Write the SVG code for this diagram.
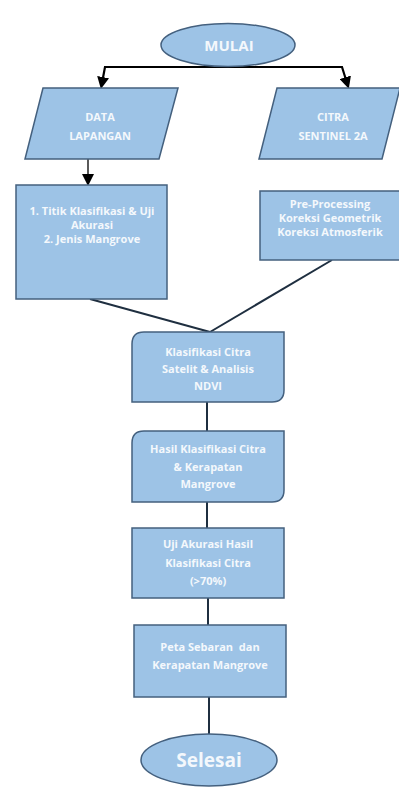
<svg xmlns="http://www.w3.org/2000/svg" width="399" height="787" viewBox="0 0 399 787">
<style>
.n{fill:#9dc3e6;stroke:#44607e;stroke-width:1.5}
.t{font-family:"Open Sans","Liberation Sans",sans-serif;font-weight:bold;font-size:11px;fill:#f4f8fc;text-anchor:middle}
.c{fill:none;stroke:#1f2f40;stroke-width:2}
.a{fill:none;stroke:#000;stroke-width:1.3}
</style>
<defs>
<marker id="ah" markerWidth="12" markerHeight="12" refX="6" refY="6" orient="auto" markerUnits="userSpaceOnUse" viewBox="0 0 12 12">
<path d="M0,0 L12,6 L0,12 Z" fill="#000"/>
</marker>
</defs>
<rect width="399" height="787" fill="#fff"/>
<g id="connectors">
<path d="M228,67 L105,67 L102,83" fill="none" stroke="#000" stroke-width="2.2" marker-end="url(#ah)"/>
<path d="M228,67 L342,67 L347,83" fill="none" stroke="#000" stroke-width="2.2" marker-end="url(#ah)"/>
<path d="M88,159 L88,180" class="a" marker-end="url(#ah)"/>
<path d="M90,299 L210,332" class="c"/>
<path d="M332,260 L210,332" class="c"/>
<path d="M207,402 L207,431" class="c"/>
<path d="M207,502 L207,528" class="c"/>
<path d="M208,598 L208,625" class="c"/>
<path d="M209,697 L209,734" class="c"/>
</g>
<g id="mulai">
<ellipse class="n" cx="228" cy="45" rx="67" ry="21.5"/>
<text class="t" x="229" y="51" style="font-size:15px">MULAI</text>
</g>
<g id="data-lapangan">
<polygon class="n" points="43,88 178,88 159,159 25,159"/>
<text class="t" x="100" y="121">DATA</text>
<text class="t" x="100" y="140">LAPANGAN</text>
</g>
<g id="citra-sentinel">
<polygon class="n" points="277,88 400,88 382,159 259,159"/>
<text class="t" x="333" y="121">CITRA</text>
<text class="t" x="333" y="140">SENTINEL 2A</text>
</g>
<g id="titik">
<rect class="n" x="16" y="185" width="151" height="114"/>
<text class="t" x="92" y="215">1. Titik Klasifikasi &amp; Uji</text>
<text class="t" x="92" y="229">Akurasi</text>
<text class="t" x="92" y="243">2. Jenis Mangrove</text>
</g>
<g id="preprocessing">
<rect class="n" x="260" y="191" width="140" height="69"/>
<text class="t" x="330" y="208">Pre-Processing</text>
<text class="t" x="330" y="222">Koreksi Geometrik</text>
<text class="t" x="330" y="236">Koreksi Atmosferik</text>
</g>
<g id="klasifikasi">
<path class="n" d="M144,332 L284,332 L284,390 Q284,402 272,402 L132,402 L132,344 Q132,332 144,332 Z"/>
<text class="t" x="208" y="356">Klasifikasi Citra</text>
<text class="t" x="208" y="373">Satelit &amp; Analisis</text>
<text class="t" x="208" y="390">NDVI</text>
</g>
<g id="hasil">
<path class="n" d="M144,431 L284,431 L284,490 Q284,502 272,502 L132,502 L132,443 Q132,431 144,431 Z"/>
<text class="t" x="208" y="453">Hasil Klasifikasi Citra</text>
<text class="t" x="208" y="471">&amp; Kerapatan</text>
<text class="t" x="208" y="488">Mangrove</text>
</g>
<g id="uji">
<rect class="n" x="132" y="528" width="152" height="70"/>
<text class="t" x="208" y="548">Uji Akurasi Hasil</text>
<text class="t" x="208" y="567">Klasifikasi Citra</text>
<text class="t" x="208" y="585">(&gt;70%)</text>
</g>
<g id="peta">
<rect class="n" x="134" y="625" width="152" height="72"/>
<text class="t" x="210" y="651" xml:space="preserve">Peta Sebaran  dan</text>
<text class="t" x="210" y="669">Kerapatan Mangrove</text>
</g>
<g id="selesai">
<ellipse class="n" cx="209" cy="760" rx="68" ry="26"/>
<text class="t" x="209" y="767" style="font-size:19px">Selesai</text>
</g>
</svg>
